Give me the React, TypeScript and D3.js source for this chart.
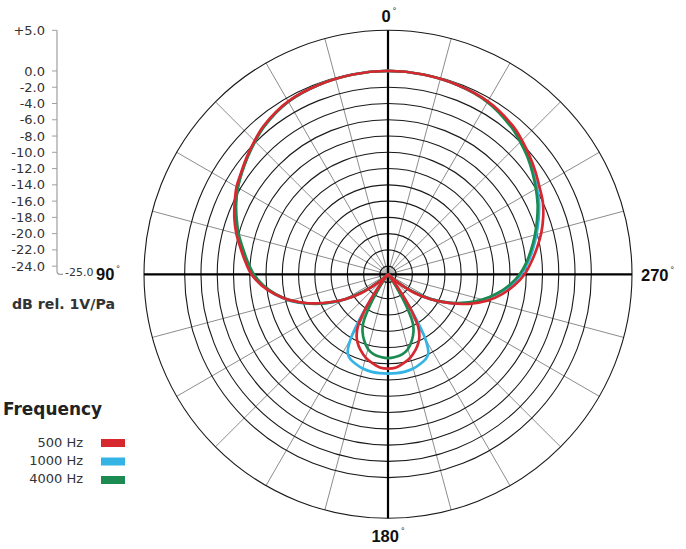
import React from "react";
import * as d3 from "d3";

const angles = [0,10,20,30,40,45,50,55,60,65,70,75,80,85,90,95,100,105,110,115,120,125,130,135,140,144,147,150,153,156,160,165,170,175,180,185,190,195,200,204,207,210,213,216,220,225,230,235,240,245,250,255,260,265,270,275,280,285,290,295,300,305,310,315,320,330,340,350];

const hz500 = [0,-0.05,-0.2,-0.45,-1.2,-1.8,-2.4,-3.0,-3.5,-4.2,-4.9,-5.7,-6.6,-7.4,-8.2,-9.4,-10.9,-12.6,-14.6,-16.8,-18.8,-21,-23.5,-25,-24.5,-22.5,-19.8,-17.6,-16.5,-15.8,-15.1,-14.4,-13.9,-13.5,-13.4,-13.5,-13.9,-14.4,-15.1,-15.8,-16.5,-17.6,-19.8,-22.5,-24.5,-25,-23.5,-21,-18.8,-16.6,-14.4,-12.4,-10.8,-9.4,-8.2,-7.3,-6.4,-5.5,-4.7,-4.0,-3.5,-2.9,-2.3,-1.7,-1.15,-0.45,-0.2,-0.05];

const hz1000 = [0,-0.05,-0.2,-0.5,-1.25,-1.85,-2.45,-3.05,-3.65,-4.35,-5.1,-5.9,-6.8,-7.6,-8.4,-9.5,-10.9,-12.5,-14.5,-16.6,-18.8,-21.3,-23.8,-25,-24.9,-23.2,-19.5,-15.8,-14.1,-13.6,-13.3,-13.0,-12.85,-12.8,-12.8,-12.8,-12.85,-13.0,-13.3,-13.6,-14.1,-15.8,-19.5,-23.2,-24.9,-25,-23.8,-21.3,-18.9,-16.7,-14.7,-12.9,-11.3,-9.8,-8.6,-7.7,-6.9,-6.1,-5.3,-4.5,-3.85,-3.2,-2.5,-1.9,-1.35,-0.5,-0.2,-0.05];

const hz4000 = [0,-0.05,-0.2,-0.5,-1.3,-1.9,-2.5,-3.1,-3.7,-4.4,-5.2,-6.0,-6.9,-7.7,-8.5,-9.6,-11.0,-12.6,-14.5,-16.6,-18.8,-21.3,-23.8,-25,-24.9,-24.5,-22.8,-20.5,-18.3,-17.3,-16.4,-15.5,-15.0,-14.8,-14.7,-14.8,-15.0,-15.5,-16.4,-17.3,-18.3,-20.5,-22.8,-24.5,-24.9,-25,-23.8,-21.3,-18.9,-16.8,-14.8,-13.0,-11.4,-10.0,-8.8,-7.9,-7.1,-6.3,-5.5,-4.7,-4.0,-3.3,-2.6,-2.0,-1.4,-0.55,-0.2,-0.05];

const seriesNames = ["500 Hz", "1000 Hz", "4000 Hz"];
const seriesColors = ["#d6282e", "#33b4e4", "#1b8b52"];
const tickValues = [5, 0, -2, -4, -6, -8, -10, -12, -14, -16, -18, -20, -22, -24];
const ringValues = [0, -2, -4, -6, -8, -10, -12, -14, -16, -18, -20, -22, -24, 5];
const spokeAngles = d3.range(0, 360, 15);
const axisLabels = [
  { a: 0, t: "0" },
  { a: 90, t: "90" },
  { a: 180, t: "180" },
  { a: 270, t: "270" },
];

export default function App() {
  const W = 686, H = 549;
  const cx = 388, cy = 274.3, R = 244;
  const r = d3.scaleLinear().domain([-25, 5]).range([0, R]);
  const yAxis = d3.scaleLinear().domain([-25, 5]).range([cy, cy - R]);
  const axisX = 57;

  const seriesData = [hz500, hz1000, hz4000];
  const drawOrder = [1, 2, 0];
  const line = d3
    .lineRadial<[number, number]>()
    .angle((d) => (-d[0] * Math.PI) / 180)
    .radius((d) => r(Math.max(-25, d[1])))
    .curve(d3.curveCatmullRomClosed.alpha(0.5));

  const font = "'DejaVu Sans', sans-serif";
  const boldFont = "'Liberation Sans', Arial, sans-serif";

  const labelPos: Record<number, { x: number; y: number; anchor: string }> = {
    0: { x: cx + 1, y: 22, anchor: "middle" },
    90: { x: 96, y: 280, anchor: "start" },
    180: { x: cx, y: 542, anchor: "middle" },
    270: { x: 641, y: 281, anchor: "start" },
  };

  return (
    <svg width={W} height={H} style={{ position: "absolute", left: 0, top: 0, background: "#fff" }}>
      <rect width={W} height={H} fill="#fff" />
      <g transform={`translate(${cx},${cy})`}>
        {spokeAngles
          .filter((a) => a % 90 !== 0)
          .map((a) => {
            const t = (a * Math.PI) / 180;
            return (
              <line key={a} x1={0} y1={0} x2={R * Math.sin(t)} y2={-R * Math.cos(t)} stroke="#6e6e6e" strokeWidth={0.8} />
            );
          })}
        {ringValues.map((v) => (
          <circle key={v} r={r(v)} fill="none" stroke="#1a1a1a" strokeWidth={1.1} />
        ))}
        <circle r={r(-24)} fill="#bdbdbd" fillOpacity={0.5} stroke="#1a1a1a" strokeWidth={1} />
        <line x1={-R} y1={0} x2={R} y2={0} stroke="#000" strokeWidth={2.2} />
        <line x1={0} y1={-R} x2={0} y2={R} stroke="#000" strokeWidth={2.2} />
        {drawOrder.map((i) => (
          <path
            key={i}
            d={line(angles.map((a, j) => [a, seriesData[i][j]] as [number, number])) || ""}
            fill="none"
            stroke={seriesColors[i]}
            strokeWidth={2.7}
            strokeLinejoin="round"
          />
        ))}
      </g>

      {axisLabels.map((l) => {
        const p = labelPos[l.a];
        return (
          <text key={l.a} x={p.x} y={p.y} textAnchor={p.anchor} fontFamily={boldFont} fontWeight="bold" fontSize={16.5} fill="#111">
            {l.t}
            <tspan fontSize={9} dx={2} dy={-8} fontWeight="normal">°</tspan>
          </text>
        );
      })}

      <path
        d={`M${axisX},${yAxis(5)} L${axisX},${yAxis(-25) - 3} Q${axisX},${yAxis(-25)} ${axisX + 3},${yAxis(-25)} L${axisX + 6},${yAxis(-25)}`}
        fill="none"
        stroke="#a0a0a0"
        strokeWidth={1.2}
      />
      {tickValues.map((v) => (
        <g key={v}>
          <line x1={axisX - 5} x2={axisX} y1={yAxis(v)} y2={yAxis(v)} stroke="#a0a0a0" strokeWidth={1} />
          <text x={45} y={yAxis(v)} dy="0.35em" textAnchor="end" fontFamily={font} fontSize={13} fill="#333">
            {v > 0 ? `+${v.toFixed(1)}` : v.toFixed(1)}
          </text>
        </g>
      ))}
      <text x={65} y={yAxis(-25) - 2} dy="0.35em" fontFamily={font} fontSize={11} fill="#333">
        {(-25).toFixed(1)}
      </text>
      <text x={12} y={309} fontFamily={font} fontWeight="bold" fontSize={14} fill="#333" textLength={103} lengthAdjust="spacingAndGlyphs">
        dB rel. 1V/Pa
      </text>

      <text x={3} y={415} fontFamily={font} fontWeight="bold" fontSize={17} fill="#222" textLength={99} lengthAdjust="spacingAndGlyphs">
        Frequency
      </text>
      {seriesNames.map((n, i) => (
        <g key={n}>
          <text x={83} y={447 + i * 18} textAnchor="end" fontFamily={font} fontSize={13} fill="#333">
            {n}
          </text>
          <rect x={101} y={439 + i * 18.5} width={24} height={8} fill={seriesColors[i]} />
        </g>
      ))}
    </svg>
  );
}
